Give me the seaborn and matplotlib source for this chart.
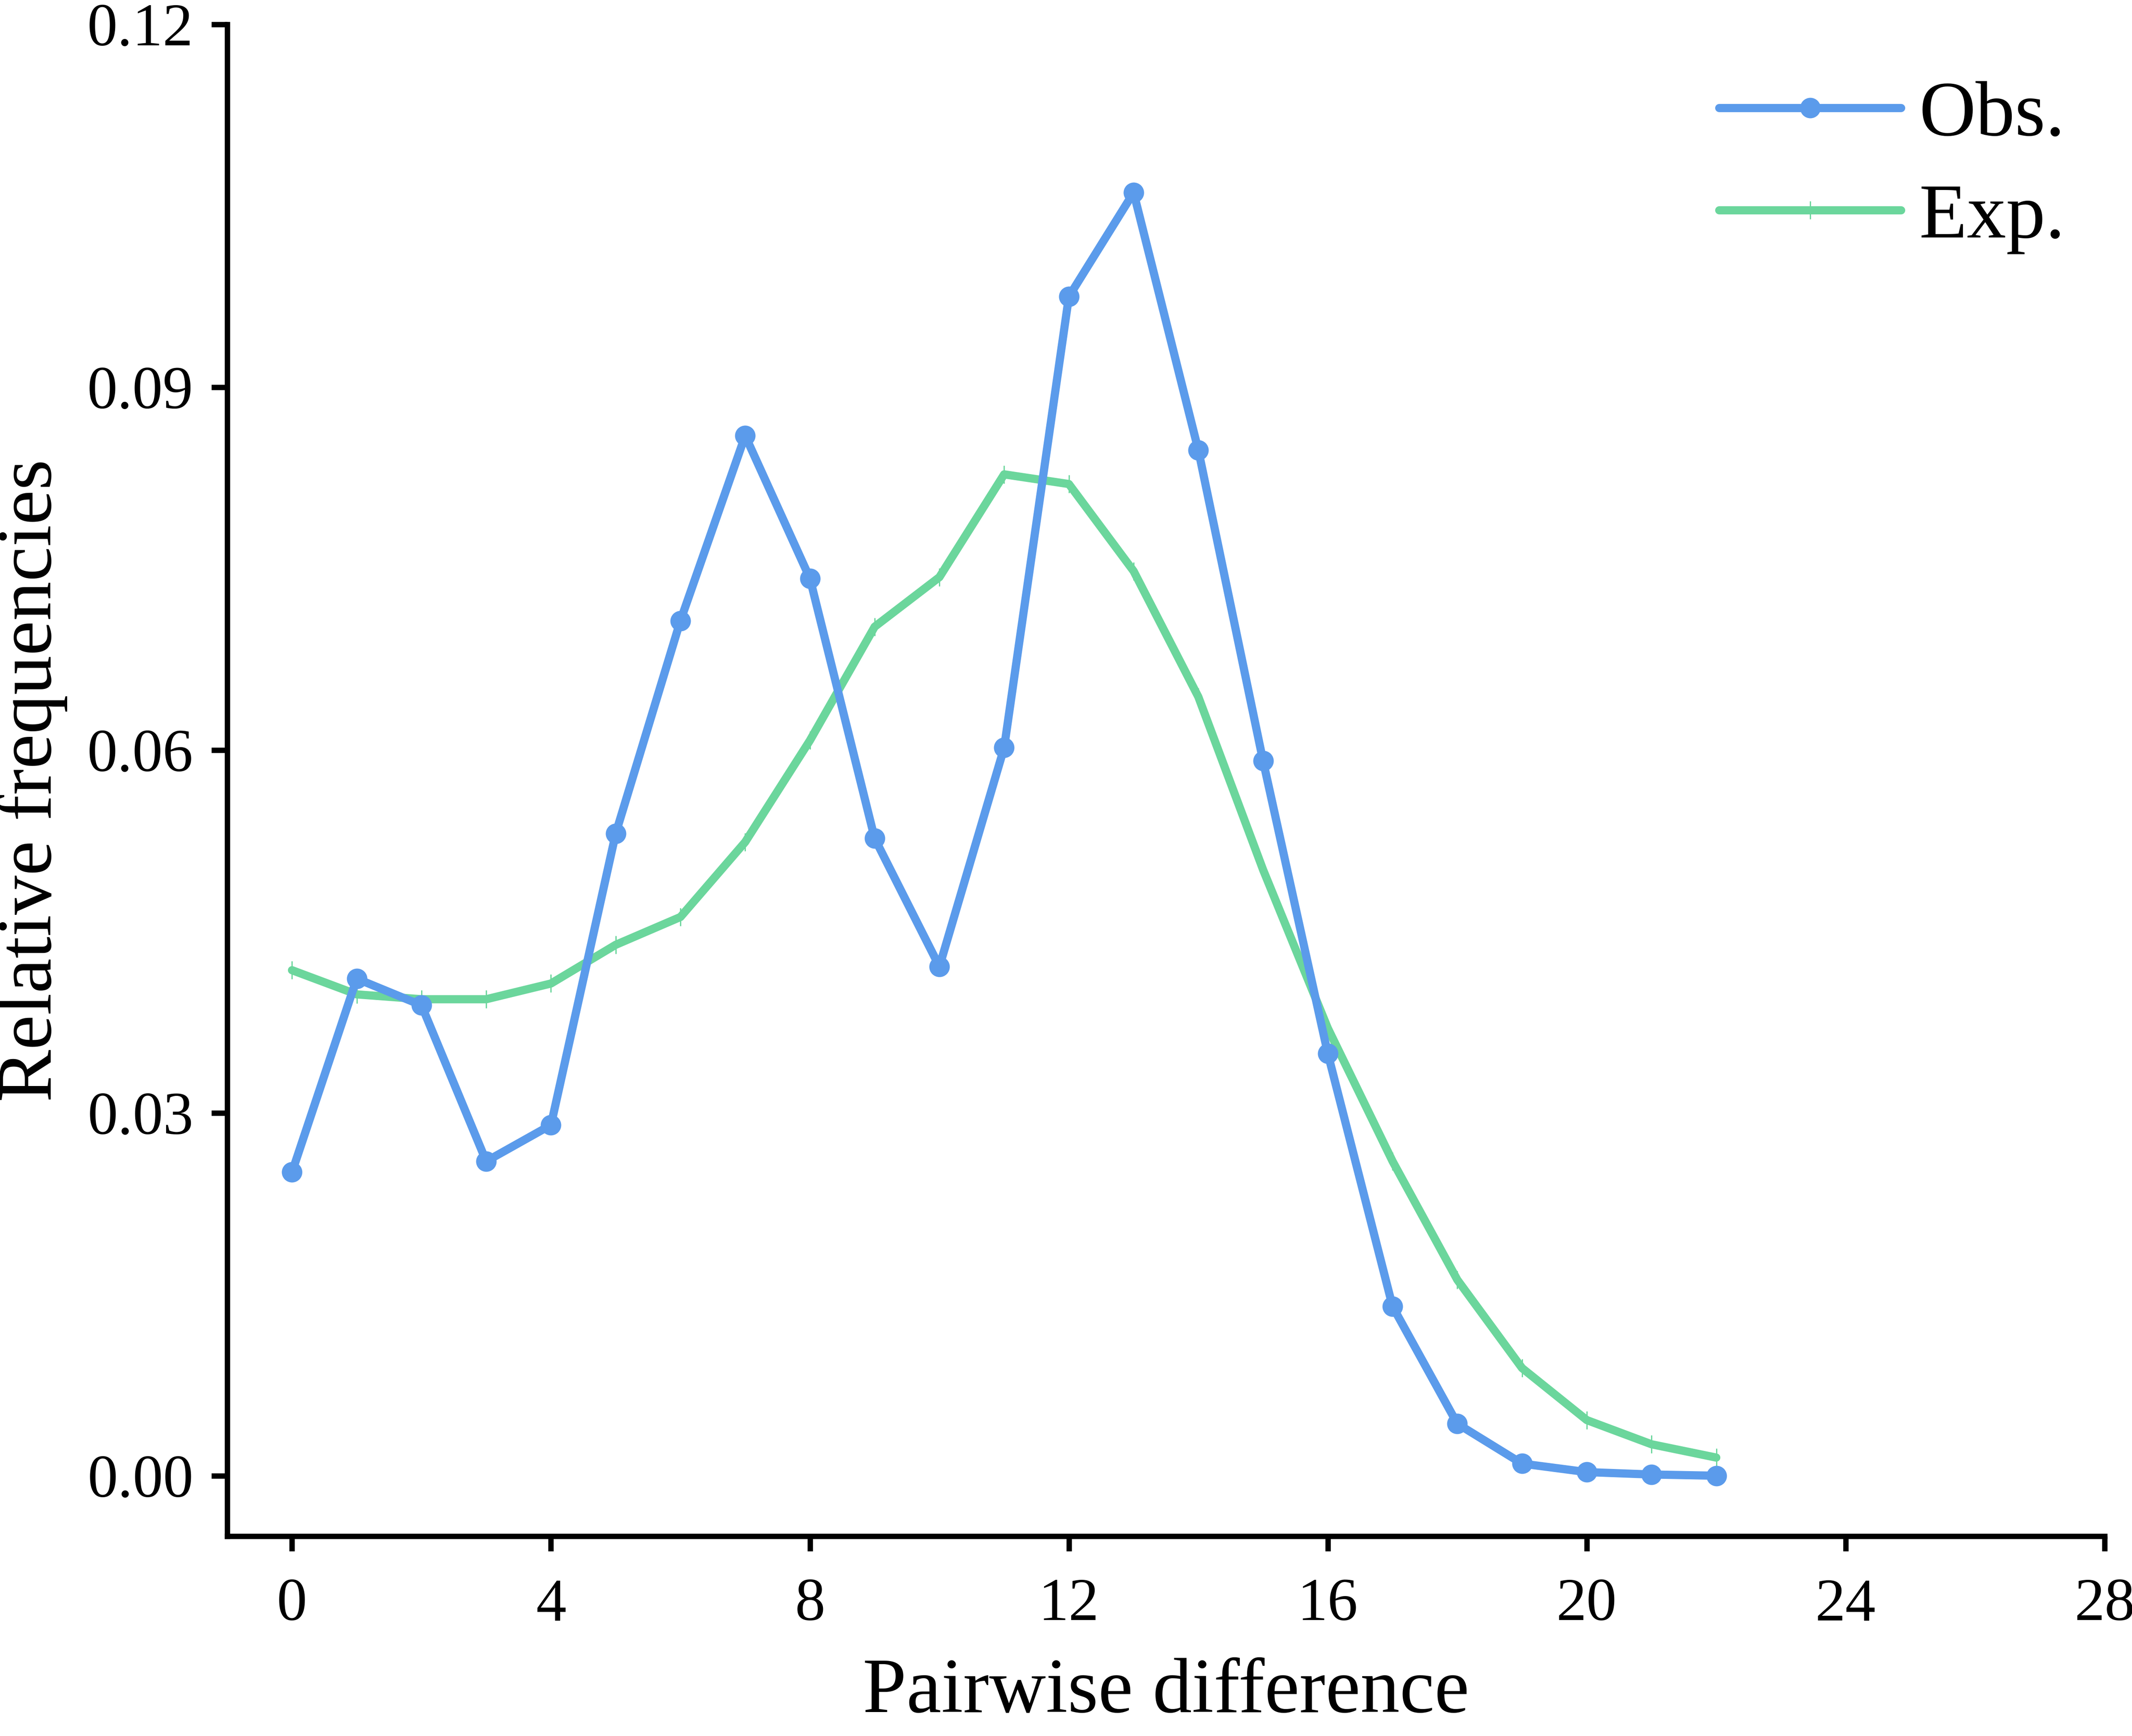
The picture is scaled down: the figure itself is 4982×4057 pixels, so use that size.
import numpy as np
import pandas as pd
import matplotlib
matplotlib.use("Agg")
import matplotlib.pyplot as plt
from matplotlib.ticker import FormatStrFormatter
import seaborn as sns

# ---- data ----
pairwise_diff = list(range(23))
obs_freq = [0.0251, 0.0411, 0.0389, 0.0260, 0.0290, 0.0531, 0.0707, 0.0860,
            0.0742, 0.0527, 0.0421, 0.0602, 0.0975, 0.1061, 0.0848, 0.0591,
            0.0349, 0.0140, 0.0043, 0.0010, 0.0003, 0.0001, 0.0000]
exp_freq = [0.0418, 0.0398, 0.0394, 0.0394, 0.0407, 0.0439, 0.0462, 0.0524,
            0.0608, 0.0702, 0.0743, 0.0828, 0.0820, 0.0748, 0.0644, 0.0501,
            0.0370, 0.0260, 0.0162, 0.0089, 0.0046, 0.0026, 0.0015]
x_ticks = [0, 4, 8, 12, 16, 20, 24, 28]
y_ticks = [0.00, 0.03, 0.06, 0.09, 0.12]
obs_label = "Obs."
exp_label = "Exp."
x_title = "Pairwise difference"
y_title = "Relative frequencies"

obs_color = "#5B9BEB"
exp_color = "#6BD69C"

sns.set_style("ticks")
plt.rcParams['font.family'] = ['Liberation Serif', 'DejaVu Serif']
plt.rcParams['text.color'] = 'black'
plt.rcParams['axes.labelcolor'] = 'black'
plt.rcParams['xtick.color'] = 'black'
plt.rcParams['ytick.color'] = 'black'

fig = plt.figure(figsize=(4982 / 300, 4057 / 300), dpi=300)
ax = fig.add_axes([0.1066, 0.1151, 0.9872 - 0.1066, 0.9859 - 0.1151])

df_obs = pd.DataFrame({"x": pairwise_diff, "y": obs_freq})
df_exp = pd.DataFrame({"x": pairwise_diff, "y": exp_freq})

sns.lineplot(data=df_exp, x="x", y="y", ax=ax, color=exp_color, linewidth=4.6,
             marker="|", markersize=10, markeredgewidth=0.7,
             markeredgecolor=exp_color, label=exp_label, zorder=3)
sns.lineplot(data=df_obs, x="x", y="y", ax=ax, color=obs_color, linewidth=4.6,
             marker="o", markersize=11.5, markeredgewidth=0,
             markerfacecolor=obs_color, label=obs_label, zorder=4)

ax.set_xlim(-1, 28)
ax.set_ylim(-0.005, 0.12)
ax.set_xticks(x_ticks)
ax.set_yticks(y_ticks)
ax.yaxis.set_major_formatter(FormatStrFormatter('%.2f'))

for s in ["top", "right"]:
    ax.spines[s].set_visible(False)
for s in ["left", "bottom"]:
    ax.spines[s].set_linewidth(3)
    ax.spines[s].set_color("black")

ax.tick_params(axis="x", direction="out", length=8.5, width=3, pad=15,
               labelsize=34, colors="black")
ax.tick_params(axis="y", direction="out", length=9, width=3, pad=10,
               labelsize=34, colors="black")

ax.set_xlabel(x_title, fontsize=44, labelpad=14, color="black")
ax.set_ylabel(y_title, fontsize=44, labelpad=11, color="black")

handles, labels = ax.get_legend_handles_labels()
order = [labels.index(obs_label), labels.index(exp_label)]
leg = ax.legend([handles[i] for i in order], [labels[i] for i in order],
                loc="upper left", bbox_to_anchor=(4017 / 4982, 1 - 188 / 4057),
                bbox_transform=fig.transFigure, frameon=False, fontsize=44,
                handlelength=2.32, handletextpad=0.23, labelspacing=0.39,
                borderpad=0, borderaxespad=0)
for t in leg.get_texts():
    t.set_color("black")

fig.savefig("out.png", dpi=300, facecolor="white")
